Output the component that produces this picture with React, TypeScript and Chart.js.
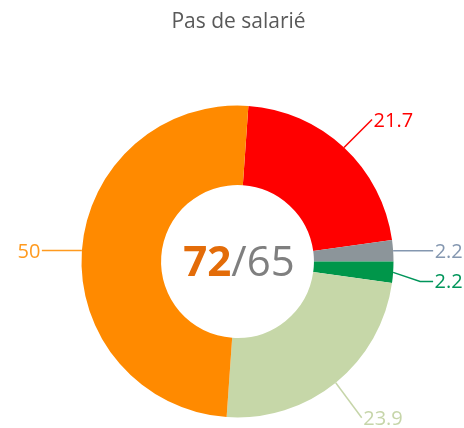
import React, { useEffect, useRef } from "react";
import { Chart, registerables } from "chart.js";

Chart.register(...registerables);

const titleText = "Pas de salarié";
const categories = ["Rouge", "Gris", "Vert", "Vert clair", "Orange"];
const values = [21.7, 2.2, 2.2, 23.9, 50];
const valueLabels = ["21.7", "2.2", "2.2", "23.9", "50"];
const sliceColors = ["#FF0000", "#8C959A", "#00964A", "#C6D7A8", "#FF8A00"];
const labelColors = ["#FF0000", "#8497B0", "#00955A", "#C6D5A9", "#FF9A1F"];
const centerMain = "72";
const centerRest = "/65";

// leader-line geometry (style only): elbow offset from arc anchor, extra horizontal run, side
const leaderStyle = [
  { dx: 28, dy: -28, run: 0, side: 1 },
  { dx: 40, dy: 0, run: 0, side: 1 },
  { dx: 27, dy: 9, run: 13, side: 1 },
  { dx: 26, dy: 35, run: 0, side: 1 },
  { dx: -40, dy: 0, run: 0, side: -1 },
];

const FONT = "'Open Sans', 'Noto Sans', sans-serif";

const labelPlugin = {
  id: "customLabels",
  afterDraw(chart: any) {
    const ctx = chart.ctx as CanvasRenderingContext2D;
    const meta = chart.getDatasetMeta(0);
    ctx.save();
    // title
    ctx.font = `21px ${FONT}`;
    ctx.fillStyle = "#595959";
    ctx.textAlign = "center";
    ctx.textBaseline = "alphabetic";
    ctx.fillText(titleText, 238.5, 28);

    meta.data.forEach((arc: any, i: number) => {
      const { x, y, startAngle, endAngle, outerRadius } = arc.getProps(
        ["x", "y", "startAngle", "endAngle", "outerRadius"],
        true
      );
      const mid = (startAngle + endAngle) / 2;
      const ax = x + Math.cos(mid) * outerRadius;
      const ay = y + Math.sin(mid) * outerRadius;
      const st = leaderStyle[i];
      const ex = ax + st.dx;
      const ey = ay + st.dy;
      const fx = ex + st.run * st.side;
      ctx.strokeStyle = labelColors[i];
      ctx.lineWidth = 1.5;
      ctx.beginPath();
      ctx.moveTo(ax, ay);
      ctx.lineTo(ex, ey);
      if (st.run) ctx.lineTo(fx, ey);
      ctx.stroke();
      ctx.font = `20px ${FONT}`;
      ctx.fillStyle = labelColors[i];
      ctx.textAlign = st.side > 0 ? "left" : "right";
      ctx.textBaseline = "alphabetic";
      ctx.fillText(valueLabels[i], fx + st.side * 1.5, ey + 7);
    });

    // center text
    const cx = meta.data[0].x;
    const cy = meta.data[0].y;
    ctx.font = `bold 42px ${FONT}`;
    const w1 = ctx.measureText(centerMain).width;
    ctx.font = `42px ${FONT}`;
    const w2 = ctx.measureText(centerRest).width;
    const startX = cx + 1.5 - (w1 + w2) / 2;
    ctx.textAlign = "left";
    ctx.font = `bold 42px ${FONT}`;
    ctx.fillStyle = "#E36C09";
    ctx.fillText(centerMain, startX, cy + 14.5);
    ctx.font = `42px ${FONT}`;
    ctx.fillStyle = "#7F7F7F";
    ctx.fillText(centerRest, startX + w1, cy + 14.5);
    ctx.restore();
  },
};

export default function App() {
  const ref = useRef<HTMLCanvasElement>(null);
  useEffect(() => {
    if (!ref.current) return;
    const chart = new Chart(ref.current, {
      type: "doughnut",
      data: {
        labels: categories,
        datasets: [
          {
            data: values,
            backgroundColor: sliceColors,
            borderWidth: 0,
            hoverOffset: 0,
            offset: 0,
          },
        ],
      },
      options: {
        responsive: false,
        animation: false,
        rotation: 4,
        cutout: "49%",
        layout: { padding: { left: 81.5, right: 70.5, top: 105.5, bottom: 10.5 } },
        plugins: {
          legend: { display: false },
          title: { display: false },
          tooltip: { enabled: false },
        },
      },
      plugins: [labelPlugin],
    });
    return () => chart.destroy();
  }, []);
  return (
    <div style={{ position: "fixed", left: 0, top: 0, width: 464, height: 428, background: "#fff" }}>
      <canvas ref={ref} width={464} height={428} style={{ display: "block" }} />
    </div>
  );
}
